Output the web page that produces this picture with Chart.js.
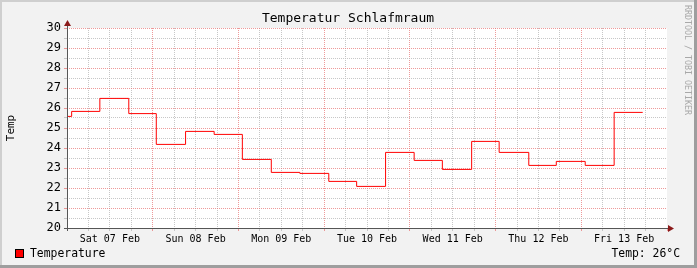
<!DOCTYPE html>
<html>
<head>
<meta charset="utf-8">
<script src="https://cdn.jsdelivr.net/npm/chart.js@4/dist/chart.umd.min.js"></script>
<style>
  html, body { margin: 0; padding: 0; background: #f2f2f2; }
  canvas { display: block; }
</style>
</head>
<body>
<canvas id="tempChart" width="697" height="268"></canvas>
<script>
// hours since Sat 07 Feb 00:00 where each step starts, and the temperature it holds
const stepHours = [0, 1.3, 9.2, 17.3, 25.0, 33.2, 41.2, 49.1, 57.2, 65.2, 73.3, 81.1,
  89.2, 97.2, 105.1, 113.3, 121.0, 129.3, 137.0, 145.1, 153.2, 161.2];
const stepTemps = [25.58, 25.83, 26.48, 25.72, 24.18, 24.83, 24.68, 23.43, 22.78, 22.73, 22.33, 22.08,
  23.78, 23.38, 22.93, 24.33, 23.78, 23.13, 23.33, 23.13, 25.78, 25.78];
const dayLabels = ['Sat 07 Feb', 'Sun 08 Feb', 'Mon 09 Feb', 'Tue 10 Feb', 'Wed 11 Feb', 'Thu 12 Feb', 'Fri 13 Feb'];
const chartTitle = 'Temperatur Schlafmraum';
const yTitle = 'Temp';
const seriesName = 'Temperature';
const currentText = 'Temp: 26°C';
const watermark = 'RRDTOOL / TOBI OETIKER';

const MONO = "'DejaVu Sans Mono', monospace";
const majorGrid = 'rgba(232, 120, 120, 0.75)';
const minorGrid = 'rgba(185, 185, 185, 0.8)';

Chart.defaults.font.family = MONO;
Chart.defaults.color = '#000';

const points = stepHours.map((h, i) => ({ x: h, y: stepTemps[i] }));

const rrdLook = {
  id: 'rrdLook',
  beforeDraw(chart) {
    const ctx = chart.ctx;
    const a = chart.chartArea;
    const W = chart.width, H = chart.height;
    ctx.save();
    ctx.fillStyle = '#f2f2f2';
    ctx.fillRect(0, 0, W, H);
    // shaded frame
    ctx.fillStyle = '#cfcfcf';
    ctx.fillRect(0, 0, W, 2);
    ctx.fillRect(0, 0, 2, H);
    ctx.fillStyle = '#9e9e9e';
    ctx.fillRect(0, H - 3, W, 3);
    ctx.fillRect(W - 3, 0, 3, H);
    ctx.fillStyle = '#ffffff';
    ctx.fillRect(a.left, a.top, a.right - a.left, a.bottom - a.top);
    ctx.restore();
  },
  afterDraw(chart) {
    const ctx = chart.ctx;
    const a = chart.chartArea;
    ctx.save();
    // axes
    ctx.strokeStyle = '#555';
    ctx.lineWidth = 1;
    ctx.beginPath();
    ctx.moveTo(a.left - 3, a.bottom + 0.5);
    ctx.lineTo(a.right + 2, a.bottom + 0.5);
    ctx.moveTo(a.left + 0.5, a.bottom + 3);
    ctx.lineTo(a.left + 0.5, a.top - 3);
    ctx.stroke();
    ctx.fillStyle = '#8b1a1a';
    ctx.beginPath();
    ctx.moveTo(a.right + 7, a.bottom + 0.5);
    ctx.lineTo(a.right + 1, a.bottom - 3);
    ctx.lineTo(a.right + 1, a.bottom + 4);
    ctx.closePath();
    ctx.fill();
    ctx.beginPath();
    ctx.moveTo(a.left + 0.5, a.top - 8);
    ctx.lineTo(a.left - 3, a.top - 2);
    ctx.lineTo(a.left + 4, a.top - 2);
    ctx.closePath();
    ctx.fill();

    // title
    ctx.fillStyle = '#000';
    ctx.font = '13px ' + MONO;
    ctx.textAlign = 'center';
    ctx.textBaseline = 'middle';
    ctx.fillText(chartTitle, 348, 19);

    // y axis title
    ctx.save();
    ctx.translate(11, 128);
    ctx.rotate(-Math.PI / 2);
    ctx.font = '11px ' + MONO;
    ctx.fillText(yTitle, 0, 0);
    ctx.restore();

    // watermark
    ctx.save();
    ctx.translate(687, 60);
    ctx.rotate(Math.PI / 2);
    ctx.font = '8.3px ' + MONO;
    ctx.fillStyle = '#a8a8a8';
    ctx.fillText(watermark, 0, 0);
    ctx.restore();

    // legend
    ctx.fillStyle = '#ff0000';
    ctx.fillRect(15, 249, 9, 9);
    ctx.strokeStyle = '#000';
    ctx.strokeRect(15.5, 249.5, 8, 8);
    ctx.fillStyle = '#000';
    ctx.font = '11.4px ' + MONO;
    ctx.textAlign = 'left';
    ctx.fillText(seriesName, 30, 254);
    ctx.textAlign = 'right';
    ctx.fillText(currentText, 680, 254);
    ctx.restore();
  }
};

new Chart(document.getElementById('tempChart'), {
  type: 'line',
  data: {
    datasets: [{
      label: seriesName,
      data: points,
      stepped: 'before',
      borderColor: '#ff0000',
      borderWidth: 1,
      pointRadius: 0,
      fill: false
    }]
  },
  options: {
    responsive: false,
    animation: false,
    devicePixelRatio: 1,
    layout: { padding: { top: 28, right: 30, bottom: 0, left: 0 } },
    plugins: {
      legend: { display: false },
      title: { display: false },
      tooltip: { enabled: false }
    },
    scales: {
      x: {
        type: 'linear',
        min: 0,
        max: 168,
        afterFit: s => { s.height = 40; },
        border: { display: false, dash: [1, 1] },
        grid: {
          color: c => {
            const v = c.tick.value;
            if (v === 0 || v === 168) return 'rgba(0,0,0,0)';
            return v % 24 === 0 ? majorGrid : minorGrid;
          },
          tickLength: 3,
          tickColor: c => (c.tick.value % 24 === 0 ? majorGrid : minorGrid)
        },
        ticks: {
          stepSize: 6,
          autoSkip: false,
          maxRotation: 0,
          padding: 2,
          font: { size: 10 },
          callback: v => ((v - 12) % 24 === 0 ? dayLabels[(v - 12) / 24] : '')
        }
      },
      y: {
        min: 20,
        max: 30,
        afterFit: s => { s.width = 67; },
        border: { display: false, dash: [1, 1] },
        grid: {
          color: c => (c.tick.value % 1 === 0 ? majorGrid : minorGrid),
          tickLength: 3,
          tickColor: c => (c.tick.value % 1 === 0 ? majorGrid : minorGrid)
        },
        ticks: {
          stepSize: 0.5,
          autoSkip: false,
          padding: 3,
          font: { size: 12 },
          callback: v => (v % 1 === 0 ? String(v) : '')
        }
      }
    }
  },
  plugins: [rrdLook]
});
</script>
</body>
</html>
